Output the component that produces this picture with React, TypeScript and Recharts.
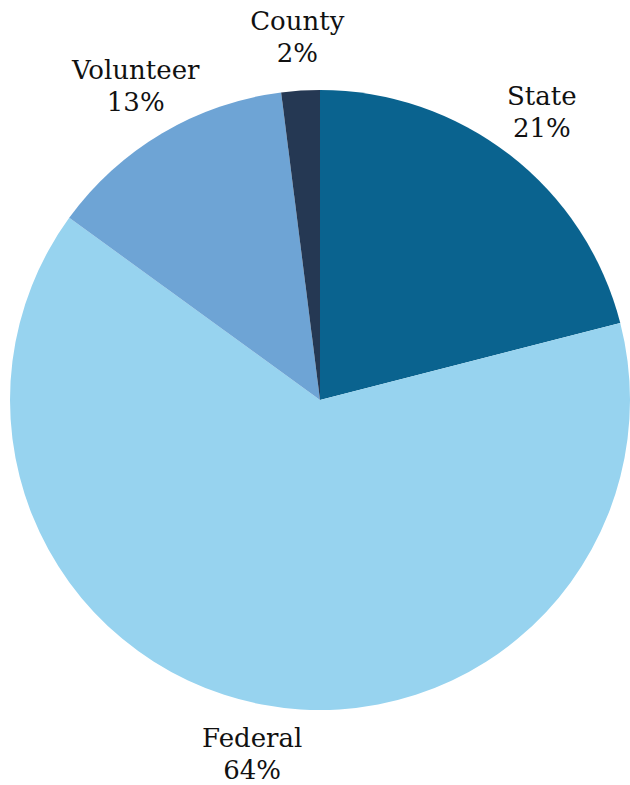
import { PieChart, Pie, Cell } from 'recharts';

const categories = ['State', 'Federal', 'Volunteer', 'County'];
const shares = [21, 64, 13, 2];
const COLORS = ['#0a638f', '#97d3ef', '#6ea4d5', '#253853'];

const data = categories.map((name, i) => ({ name, value: shares[i] }));

const RAD = Math.PI / 180;

function renderLabel(props: any) {
  const { cx, cy, midAngle, name, value } = props;
  const r = 362;
  const x = cx + r * Math.cos(-midAngle * RAD);
  const y = cy + r * Math.sin(-midAngle * RAD);
  return (
    <text
      x={x}
      y={y}
      textAnchor="middle"
      fill="#111"
      fontFamily="'DejaVu Serif', serif"
      fontSize={26}
    >
      <tspan x={x} dy={-9}>{name}</tspan>
      <tspan x={x} dy={32}>{`${value}%`}</tspan>
    </text>
  );
}

export default function App() {
  return (
    <div style={{ position: 'absolute', left: 0, top: 0, background: '#fff' }}>
      <PieChart width={630} height={785} margin={{ top: 0, right: 0, bottom: 0, left: 0 }}>
        <Pie
          data={data}
          dataKey="value"
          nameKey="name"
          cx={320}
          cy={400}
          outerRadius={310}
          startAngle={90}
          endAngle={-270}
          stroke="none"
          label={renderLabel}
          labelLine={false}
          isAnimationActive={false}
        >
          {data.map((_entry, index) => (
            <Cell key={`cell-${index}`} fill={COLORS[index % COLORS.length]} />
          ))}
        </Pie>
      </PieChart>
    </div>
  );
}
